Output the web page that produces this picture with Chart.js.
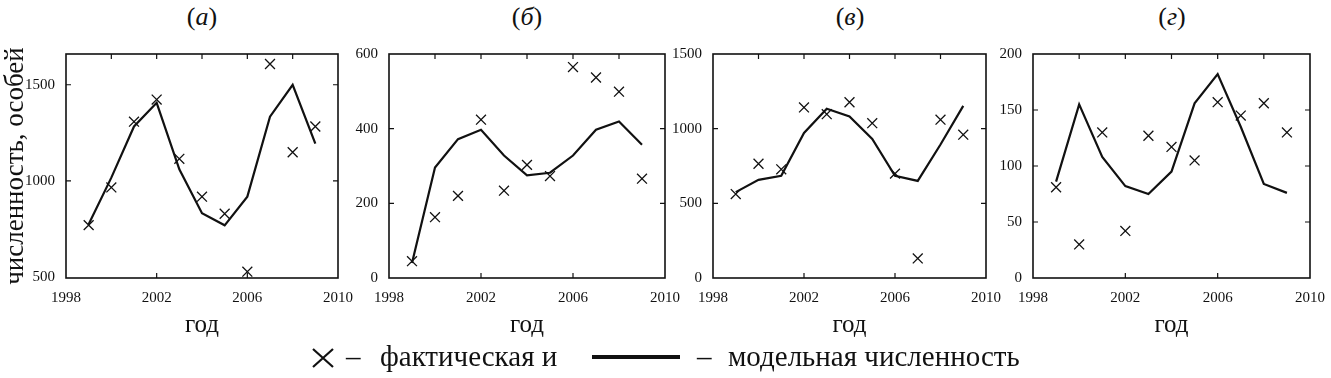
<!DOCTYPE html>
<html>
<head>
<meta charset="utf-8">
<script src="https://cdn.jsdelivr.net/npm/chart.js@4/dist/chart.umd.min.js"></script>
<style>
  body { margin: 0; background: #fff; width: 1331px; height: 378px; position: relative; overflow: hidden;
         font-family: "Liberation Serif", "DejaVu Serif", serif; color: #111; }
  .panel { position: absolute; top: 42px; height: 300px; }
  .ptitle { position: absolute; top: 2px; font-size: 26px; transform: translateX(-50%); white-space: nowrap; }
  .ptitle i { font-style: italic; }
  .leg { position: absolute; font-size: 29px; white-space: nowrap; line-height: 30px; top: 341px; }
</style>
</head>
<body>

<div class="ptitle" style="left:202px">(<i>а</i>)</div>
<div class="ptitle" style="left:527px">(<i>б</i>)</div>
<div class="ptitle" style="left:850px">(<i>в</i>)</div>
<div class="ptitle" style="left:1172px">(<i>г</i>)</div>

<div class="panel" id="wa" style="left:0px;width:358px"><canvas id="ca"></canvas></div>
<div class="panel" id="wb" style="left:349px;width:336px"><canvas id="cb"></canvas></div>
<div class="panel" id="wc" style="left:673px;width:333px"><canvas id="cc"></canvas></div>
<div class="panel" id="wd" style="left:993px;width:337px"><canvas id="cd"></canvas></div>

<svg style="position:absolute;left:311px;top:347px" width="24" height="22">
  <path d="M2 2 L22 20 M22 2 L2 20" stroke="#111" stroke-width="2.2" fill="none"/>
</svg>
<div class="leg" style="left:346px">–</div>
<div class="leg" style="left:380px">фактическая и</div>
<div style="position:absolute;left:592px;top:355px;width:88px;height:3.5px;background:#111"></div>
<div class="leg" style="left:697px">–</div>
<div class="leg" style="left:728px">модельная численность</div>

<script>
const years = [1999, 2000, 2001, 2002, 2003, 2004, 2005, 2006, 2007, 2008, 2009];

// (а)
const actualA = [770, 966, 1308, 1423, 1115, 918, 829, 528, 1608, 1149, 1283];
const modelA = [775, 1017, 1283, 1406, 1060, 832, 769, 918, 1334, 1500, 1194];
// (б)
const actualB = [45, 163, 220, 424, 234, 303, 273, 565, 537, 499, 266];
const modelB = [40, 296, 372, 397, 328, 275, 282, 328, 397, 419, 357];
// (в)
const actualC = [562, 765, 728, 1142, 1097, 1177, 1037, 699, 131, 1060, 960];
const modelC = [575, 657, 684, 971, 1133, 1082, 931, 684, 650, 894, 1153];
// (г)
const actualD = [81, 30, 130, 42, 127, 117, 105, 157, 145, 156, 130];
const modelD = [86, 155, 108, 82, 75, 95, 156, 182, 135, 84, 76];

const xLabelTicks = [1998, 2002, 2006, 2010];
const xTopTicks = [2000, 2002, 2004, 2006, 2008];
const yTicksA = [500, 1000, 1500];
const yTicksB = [0, 200, 400, 600];
const yTicksC = [0, 500, 1000, 1500];
const yTicksD = [0, 50, 100, 150, 200];

const FONT = "'Liberation Serif', 'DejaVu Serif', serif";
const INK = "#111";

// box with short inward ticks, as in the original figure
const framePlugin = {
  id: "frame",
  afterDraw(chart, args, opts) {
    const { ctx, chartArea: a, scales } = chart;
    const x = scales.x, y = scales.y;
    const len = 5;
    ctx.save();
    ctx.strokeStyle = INK;
    ctx.lineWidth = 1.6;
    ctx.strokeRect(a.left, a.top, a.width, a.height);
    ctx.lineWidth = 1.2;
    ctx.beginPath();
    xTopTicks.forEach(v => {
      const px = x.getPixelForValue(v);
      ctx.moveTo(px, a.top); ctx.lineTo(px, a.top + len);
    });
    xLabelTicks.slice(1, -1).forEach(v => {
      const px = x.getPixelForValue(v);
      ctx.moveTo(px, a.bottom); ctx.lineTo(px, a.bottom - len);
    });
    opts.yTicks.forEach(v => {
      const py = y.getPixelForValue(v);
      if (py <= a.top + 1 || py >= a.bottom - 1) return;
      ctx.moveTo(a.left, py); ctx.lineTo(a.left + len, py);
      ctx.moveTo(a.right, py); ctx.lineTo(a.right - len, py);
    });
    ctx.stroke();
    ctx.restore();
  }
};

function toPoints(vals) {
  return years.map((yr, i) => ({ x: yr, y: vals[i] }));
}

function panelChart({ canvas_id, actual, model, y_min, y_max, y_ticks, axis_w, y_title }) {
  const ctx = document.getElementById(canvas_id).getContext("2d");
  return new Chart(ctx, {
    type: "line",
    data: {
      datasets: [
        {
          label: "модельная",
          data: toPoints(model),
          borderColor: INK,
          borderWidth: 2.2,
          pointRadius: 0,
          tension: 0,
          fill: false
        },
        {
          label: "фактическая",
          data: toPoints(actual),
          showLine: false,
          pointStyle: "crossRot",
          pointRadius: 7,
          pointBorderWidth: 1.3,
          pointBorderColor: INK,
          borderColor: INK
        }
      ]
    },
    options: {
      responsive: true,
      maintainAspectRatio: false,
      animation: false,
      layout: { padding: { top: 10, right: 20, left: 0, bottom: 0 } },
      plugins: {
        legend: { display: false },
        tooltip: { enabled: false },
        frame: { yTicks: y_ticks }
      },
      scales: {
        x: {
          type: "linear",
          min: 1998,
          max: 2010,
          grid: { display: false },
          border: { display: false },
          afterBuildTicks: (s) => { s.ticks = xLabelTicks.map(v => ({ value: v })); },
          afterFit: (s) => { s.height = 64; },
          ticks: {
            padding: 3,
            maxRotation: 0,
            color: INK,
            font: { family: FONT, size: 15 },
            callback: (v) => String(v)
          },
          title: {
            display: true,
            text: "год",
            color: INK,
            padding: { top: 4, bottom: 2 },
            font: { family: FONT, size: 25 }
          }
        },
        y: {
          min: y_min,
          max: y_max,
          grid: { display: false },
          border: { display: false },
          afterBuildTicks: (s) => { s.ticks = y_ticks.map(v => ({ value: v })); },
          afterFit: (s) => { s.width = axis_w; },
          ticks: {
            padding: 3,
            color: INK,
            font: { family: FONT, size: 15 },
            callback: (v) => String(v)
          },
          title: {
            display: !!y_title,
            text: y_title || "",
            color: INK,
            padding: 0,
            font: { family: FONT, size: 27 }
          }
        }
      }
    },
    plugins: [framePlugin]
  });
}

panelChart({ canvas_id: "ca", actual: actualA, model: modelA, y_min: 495, y_max: 1660,
  y_ticks: yTicksA, axis_w: 66, y_title: "численность, особей" });
panelChart({ canvas_id: "cb", actual: actualB, model: modelB, y_min: 0, y_max: 600,
  y_ticks: yTicksB, axis_w: 40 });
panelChart({ canvas_id: "cc", actual: actualC, model: modelC, y_min: 0, y_max: 1500,
  y_ticks: yTicksC, axis_w: 40 });
panelChart({ canvas_id: "cd", actual: actualD, model: modelD, y_min: 0, y_max: 200,
  y_ticks: yTicksD, axis_w: 40 });
</script>
</body>
</html>
